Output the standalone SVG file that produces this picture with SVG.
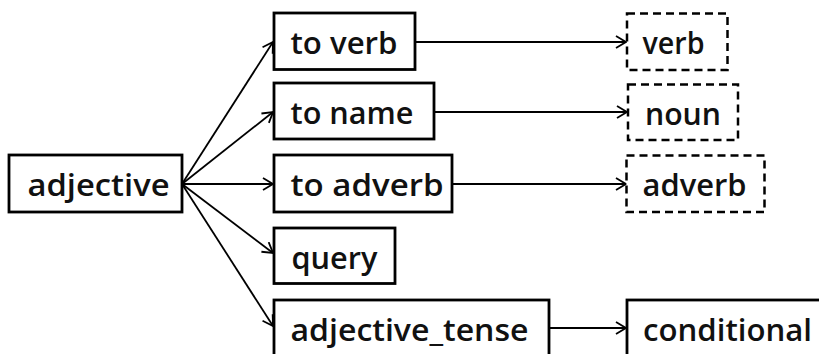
<svg xmlns="http://www.w3.org/2000/svg" width="819" height="354" viewBox="0 0 819 354">
<defs>
<style>
.box{fill:#fff;stroke:#000;stroke-width:2.8}
.dash{fill:#fff;stroke:#000;stroke-width:2.5;stroke-dasharray:8 5}
.lbl{font-family:"Open Sans","Noto Sans","DejaVu Sans",sans-serif;font-size:31px;font-weight:600;fill:#111}
.con{fill:none;stroke:#000;stroke-width:1.8}
</style>
<marker id="ah" markerUnits="userSpaceOnUse" markerWidth="14" markerHeight="14" refX="11" refY="7" orient="auto">
<path d="M1,1 L11,7 L1,13" fill="none" stroke="#000" stroke-width="1.8"/>
</marker>
</defs>
<rect width="819" height="354" fill="#fff"/>
<g id="connectors">
<line class="con" x1="182" y1="184" x2="273" y2="42" marker-end="url(#ah)"/>
<line class="con" x1="182" y1="184" x2="273" y2="112" marker-end="url(#ah)"/>
<line class="con" x1="182" y1="184" x2="273" y2="184" marker-end="url(#ah)"/>
<line class="con" x1="182" y1="184" x2="273" y2="253" marker-end="url(#ah)"/>
<line class="con" x1="182" y1="184" x2="273" y2="326" marker-end="url(#ah)"/>
<line class="con" x1="415" y1="42" x2="626" y2="42" marker-end="url(#ah)"/>
<line class="con" x1="434" y1="112" x2="627" y2="112" marker-end="url(#ah)"/>
<line class="con" x1="452" y1="184" x2="626" y2="184" marker-end="url(#ah)"/>
<line class="con" x1="549" y1="328" x2="626" y2="328" marker-end="url(#ah)"/>
</g>
<g id="adjective">
<rect class="box" x="9" y="155" width="173" height="57"/>
<text class="lbl" x="27.5" y="196" textLength="142" lengthAdjust="spacingAndGlyphs">adjective</text>
</g>
<g id="to_verb">
<rect class="box" x="274" y="13" width="141" height="56.5"/>
<text class="lbl" x="290.5" y="53.5" textLength="107" lengthAdjust="spacingAndGlyphs">to verb</text>
</g>
<g id="to_name">
<rect class="box" x="274" y="83" width="160" height="56"/>
<text class="lbl" x="290.5" y="124" textLength="123" lengthAdjust="spacingAndGlyphs">to name</text>
</g>
<g id="to_adverb">
<rect class="box" x="274" y="155" width="178" height="57"/>
<text class="lbl" x="290.5" y="196" textLength="153" lengthAdjust="spacingAndGlyphs">to adverb</text>
</g>
<g id="query">
<rect class="box" x="274" y="228" width="121" height="55.5"/>
<text class="lbl" x="291.5" y="268.5" textLength="86" lengthAdjust="spacingAndGlyphs">query</text>
</g>
<g id="adjective_tense">
<rect class="box" x="274" y="300" width="275" height="80"/>
<text class="lbl" x="290.5" y="341" textLength="238" lengthAdjust="spacingAndGlyphs">adjective_tense</text>
</g>
<g id="verb">
<rect class="dash" x="627" y="13.5" width="100.5" height="56.5"/>
<text class="lbl" x="642.5" y="53.5" textLength="62" lengthAdjust="spacingAndGlyphs">verb</text>
</g>
<g id="noun">
<rect class="dash" x="628" y="84.5" width="110" height="55.5"/>
<text class="lbl" x="645" y="124.5" textLength="76" lengthAdjust="spacingAndGlyphs">noun</text>
</g>
<g id="adverb">
<rect class="dash" x="626.5" y="155.5" width="138" height="56.5"/>
<text class="lbl" x="642.5" y="196" textLength="104" lengthAdjust="spacingAndGlyphs">adverb</text>
</g>
<g id="conditional">
<rect class="box" x="627" y="300" width="220" height="80"/>
<text class="lbl" x="643" y="341" textLength="169" lengthAdjust="spacingAndGlyphs">conditional</text>
</g>
</svg>
